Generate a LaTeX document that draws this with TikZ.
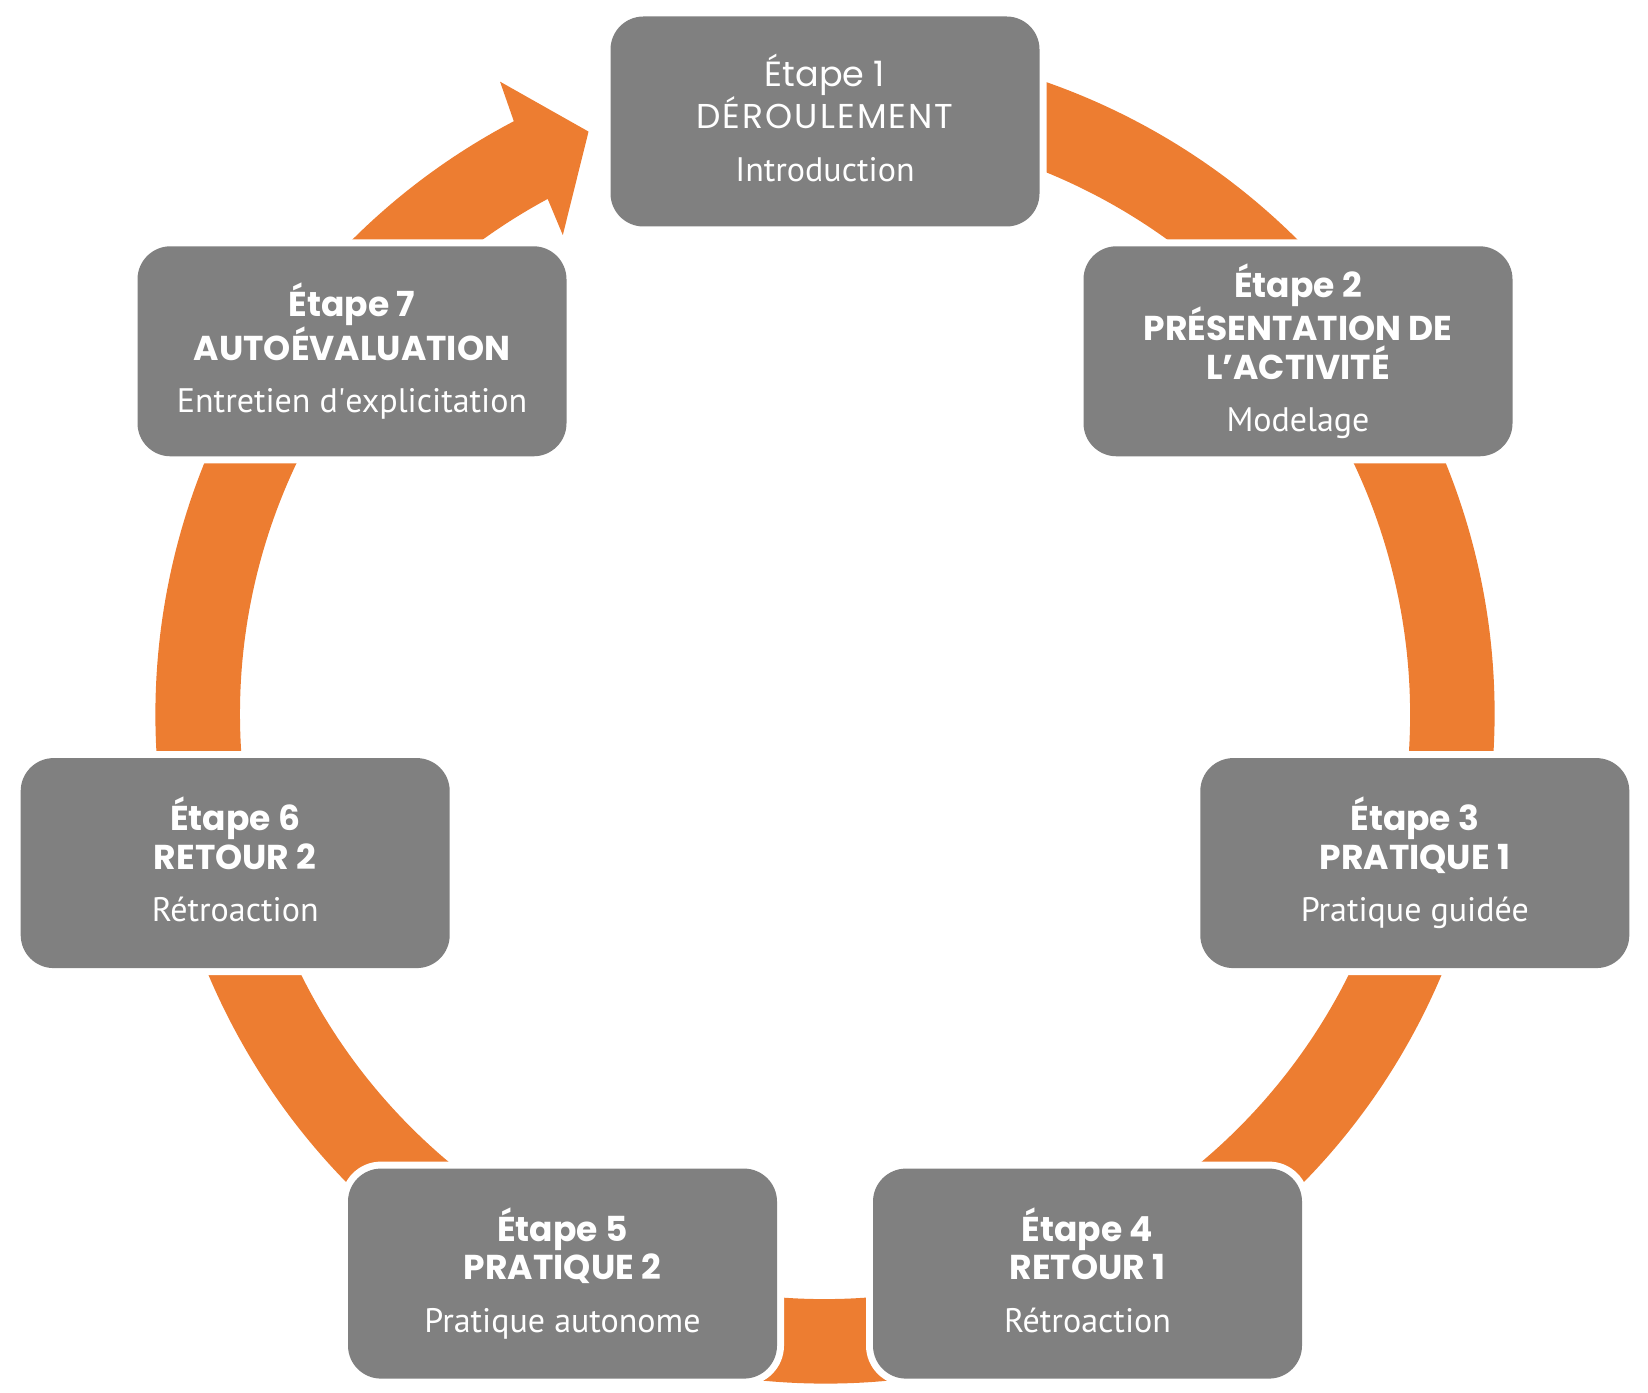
\documentclass[tikz,border=0pt]{standalone}
\usepackage{fontspec}
\newfontfamily\headfont{Poppins}
\newfontfamily\subfont{PT Sans}
\definecolor{boxgray}{HTML}{808080}
\definecolor{ringorange}{HTML}{ED7D31}
\tikzset{
    etape/.style={rectangle, rounded corners=33pt, fill=boxgray, text=white,
        minimum width=429pt, minimum height=210pt, inner sep=0pt, align=center,
        font=\headfont\fontsize{34.5}{38.5}\selectfont,
        preaction={draw=white, line width=14pt}},
}
\newcommand{\soustitre}[1]{\\[14pt]{\subfont\fontsize{34}{38.5}\selectfont #1\vphantom{g}}}

\begin{document}
\begin{tikzpicture}[x=1pt, y=1pt]
        \useasboundingbox (0, 0) rectangle (1648, 1392);
        %\draw[color=lightgray] (0, 0) grid[step=100] (1648, 1392);
        \begin{scope}[shift={(825, 678)}]
            \fill[ringorange] (117.7:669.5pt) arc[start angle=117.7, end angle=460, radius=669.5pt]
                -- (460:585pt) arc[start angle=460, end angle=118.3, radius=585pt]
                -- (118.7:546pt) -- (112.1:628.6pt) -- (117.2:711pt) -- cycle;
        \end{scope}
        \node[etape] (e1) at (825, 1270.5) {\fontsize{35}{37.5}\selectfont Étape 1\\{\addfontfeature{LetterSpace=6}DÉROULEMENT}\soustitre{Introduction}};
        \node[etape] (e2) at (1298, 1040.7) {\bfseries Étape 2\\\bfseries PRÉSENTATION DE\\\bfseries L’ACTIVITÉ\soustitre{Modelage}};
        \node[etape] (e3) at (1414.8, 528.9) {\bfseries Étape 3\\\bfseries PRATIQUE 1\soustitre{Pratique guidée}};
        \node[etape] (e4) at (1087.5, 118.4) {\bfseries Étape 4\\\bfseries RETOUR 1\soustitre{Rétroaction}};
        \node[etape] (e5) at (562.5, 118.4) {\bfseries Étape 5\\\bfseries PRATIQUE 2\soustitre{Pratique autonome}};
        \node[etape] (e6) at (235.2, 528.9) {\bfseries Étape 6\\\bfseries RETOUR 2\soustitre{Rétroaction}};
        \node[etape] (e7) at (352, 1040.7) {\bfseries Étape 7\\\bfseries AUTOÉVALUATION\soustitre{Entretien d\textquotesingle explicitation}};
\end{tikzpicture}
\end{document}
